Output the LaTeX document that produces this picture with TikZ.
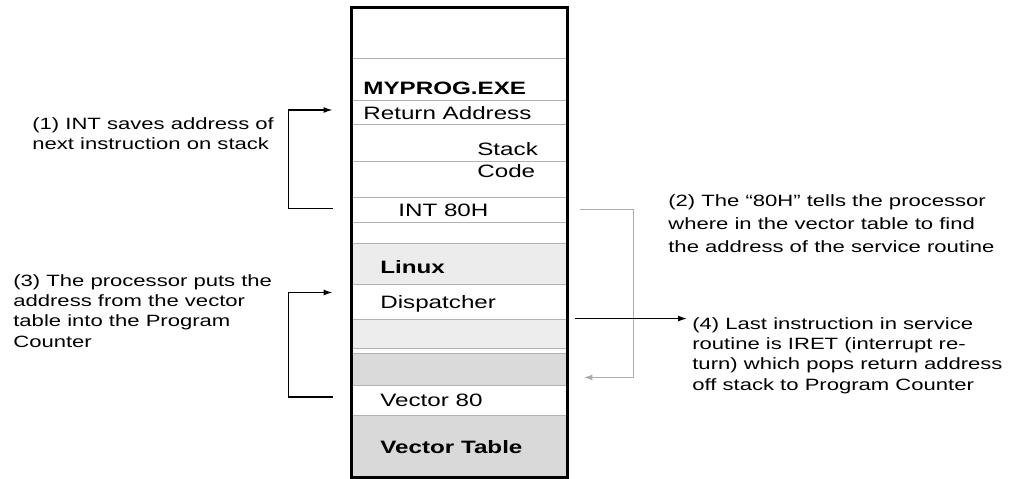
\documentclass[tikz,border=0pt]{standalone}
\usepackage{fontspec}
\setmainfont{Liberation Sans}[FakeStretch=1.35]
\usetikzlibrary{arrows.meta,calc}

\begin{document}
\begin{tikzpicture}[
      x=0.02cm, y=-0.02cm,
      cell/.style={draw=gray!60, line width=0.5pt, minimum width=4.3cm, inner sep=0pt},
      lbl/.style={anchor=west, inner sep=0pt, text height=7pt, text depth=0pt,
        font=\fontsize{10.2}{12}\selectfont},
      bold/.style={lbl, font=\fontsize{10.2}{12}\selectfont\bfseries},
      note/.style={anchor=north west, align=left, inner sep=0pt,
        font=\fontsize{9.3}{11.6}\selectfont},
      garr/.style={->, draw=gray!65, line width=0.9pt},
      >={Latex[length=1.8mm,width=1.2mm]}
    ]
    \useasboundingbox (0,0) rectangle (1013,479);

    % memory column
    \node[cell, minimum height=1.0cm] (top) at (459.5,33) {};
    \node[cell, minimum height=0.84cm] (prog) at (459.5,79) {};
    \node[cell, minimum height=0.48cm] (ret) at (459.5,112) {};
    \node[cell, minimum height=0.74cm] (stk) at (459.5,142.5) {};
    \node[cell, minimum height=0.72cm] (code) at (459.5,179) {};
    \node[cell, minimum height=0.5cm] (int) at (459.5,209.5) {};
    \node[cell, minimum height=0.42cm] (gap) at (459.5,232.5) {};
    \node[cell, minimum height=0.82cm, fill=gray!15] (linux) at (459.5,263.5) {};
    \node[cell, minimum height=0.7cm] (disp) at (459.5,301.5) {};
    \node[cell, minimum height=0.58cm, fill=gray!14] (svc1) at (459.5,333.5) {};
    \node[cell, minimum height=0.64cm, fill=gray!29] (svc2) at (459.5,369) {};
    \node[cell, minimum height=0.6cm] (vec) at (459.5,400) {};
    \node[cell, minimum height=1.24cm, fill=gray!30] (vtab) at (459.5,446) {};
    \draw[line width=1.7pt] (top.north west) rectangle (vtab.south east);

    \node[bold] (tprog) at (363,88) {MYPROG.EXE};
    \node[lbl] (tret) at (363,113) {Return Address};
    \node[lbl] (tstk) at (477,149) {Stack};
    \node[lbl] (tcode) at (477,171) {Code};
    \node[lbl] (tint) at (398,210) {INT 80H};
    \node[bold] (tlinux) at (380,267) {Linux};
    \node[lbl] (tdisp) at (380,302) {Dispatcher};
    \node[lbl] (tvec) at (380,400) {Vector 80};
    \node[bold] (tvtab) at (380,447) {Vector Table};

    % notes
    \node[note] (n1) at (32,117) {(1) INT saves address of\\next instruction on stack};
    \node[note] (n3) at (13,274) {(3) The processor puts the\\address from the vector\\table into the Program\\Counter};
    \node[note, font=\fontsize{9.3}{13.2}\selectfont] (n2) at (668,194) {(2) The “80H” tells the processor\\where in the vector table to find\\the address of the service routine};
    \node[note] (n4) at (692,317) {(4) Last instruction in service\\routine is IRET (interrupt re-\\turn) which pops return address\\off stack to Program Counter};

    % arrows
    \draw[->, line width=0.8pt] ($(int.west)+(-19,-1)$) -- ++(-44,0) |- ($(ret.west)+(-19,-2)$);
    \draw[->, line width=0.8pt] ($(vec.west)+(-19,-3)$) -- ++(-44,0) |- ($(disp.west)+(-19,-9)$);
    \draw[garr] ($(int.east)+(13,0)$) -- ++(53,0) |- ($(svc2.south east)+(16,-8)$);
    \draw[->, line width=0.8pt] ($(svc1.north east)+(8,0)$) -- ($(svc1.north east -| n4.west)+(-5,0)$);
  \end{tikzpicture}
\end{document}
